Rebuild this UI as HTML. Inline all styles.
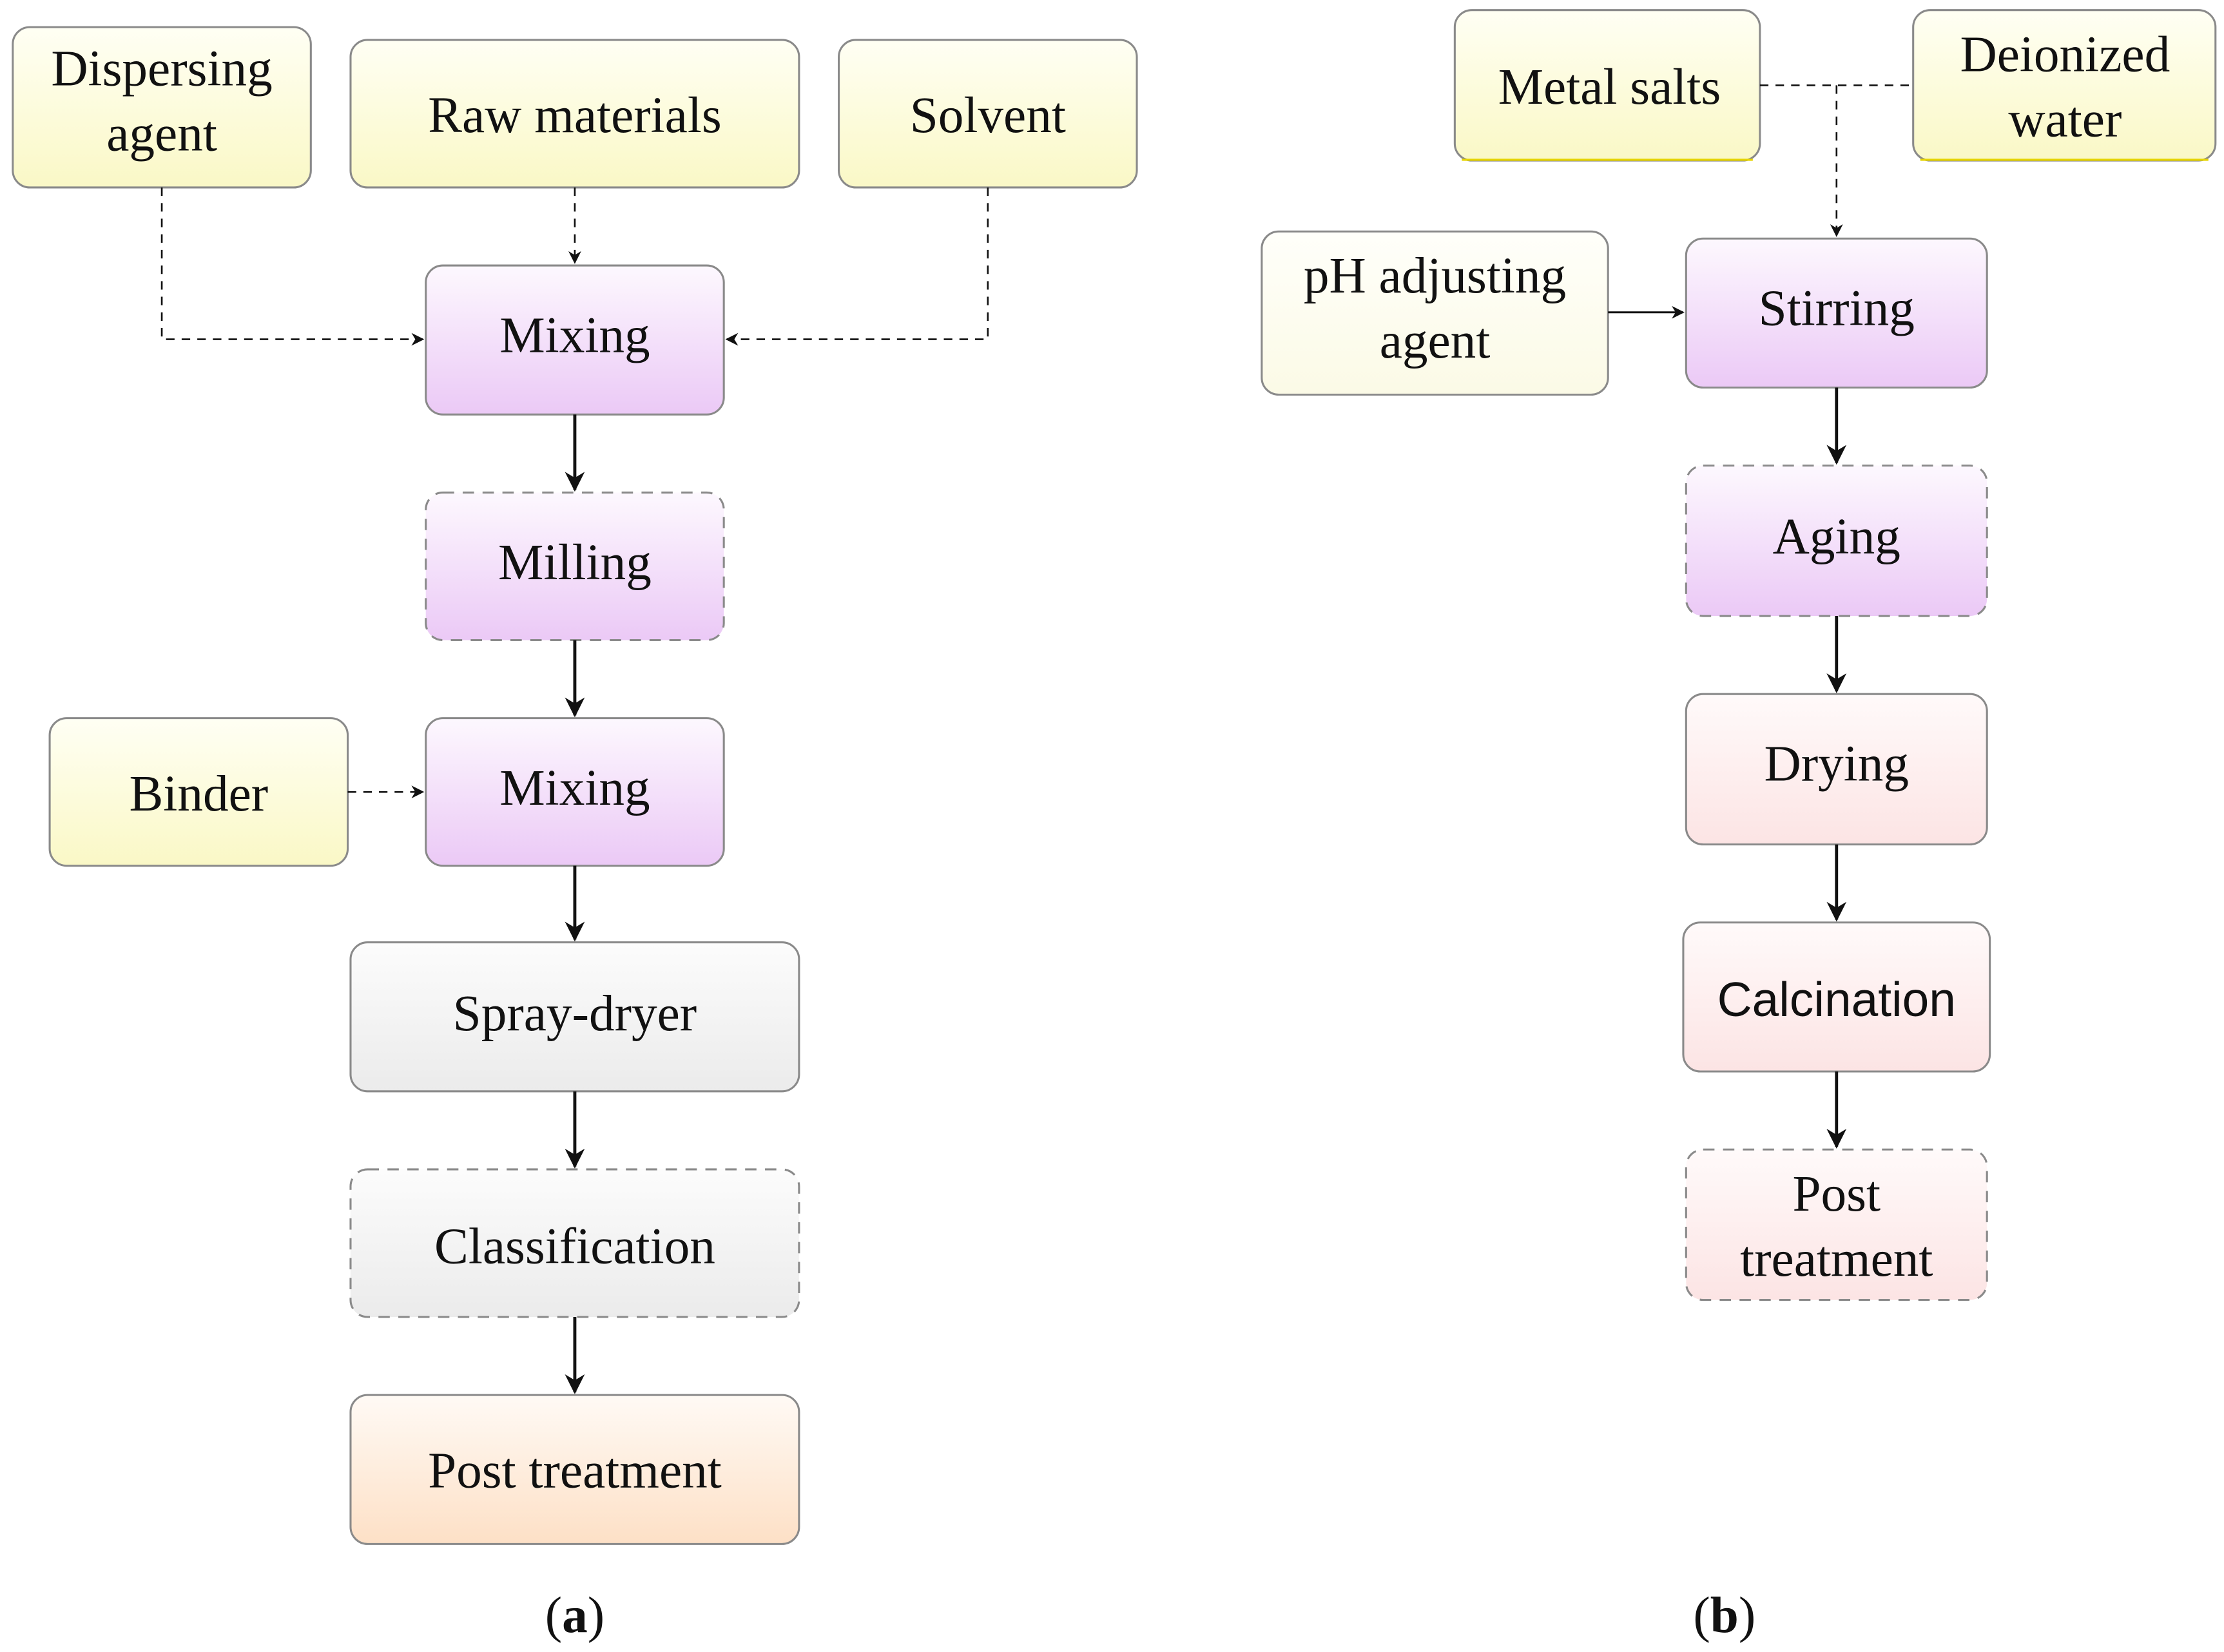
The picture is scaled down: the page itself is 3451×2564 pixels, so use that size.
<!DOCTYPE html>
<html><head><meta charset="utf-8"><style>
html,body{margin:0;padding:0;background:#fff;}
svg{display:block;}
text{font-family:"Liberation Serif",serif;font-size:36px;fill:#111;text-anchor:middle;}
.s{font-family:"Liberation Sans",sans-serif;}
</style></head><body>
<svg width="3451" height="2564" viewBox="0 0 1567 1164" xmlns="http://www.w3.org/2000/svg">
<defs>
<linearGradient id="y" x1="0" y1="0" x2="0" y2="1"><stop offset="0" stop-color="#fffff4"/><stop offset="1" stop-color="#faf8c6"/></linearGradient>
<linearGradient id="y2" x1="0" y1="0" x2="0" y2="1"><stop offset="0" stop-color="#fffffa"/><stop offset="1" stop-color="#fbfae6"/></linearGradient>
<linearGradient id="p" x1="0" y1="0" x2="0" y2="1"><stop offset="0" stop-color="#fdf8fe"/><stop offset="1" stop-color="#ebc9f6"/></linearGradient>
<linearGradient id="g" x1="0" y1="0" x2="0" y2="1"><stop offset="0" stop-color="#fcfcfc"/><stop offset="1" stop-color="#ebebeb"/></linearGradient>
<linearGradient id="o" x1="0" y1="0" x2="0" y2="1"><stop offset="0" stop-color="#fffaf5"/><stop offset="1" stop-color="#fde0c6"/></linearGradient>
<linearGradient id="k" x1="0" y1="0" x2="0" y2="1"><stop offset="0" stop-color="#fffafa"/><stop offset="1" stop-color="#fce4e4"/></linearGradient>
<marker id="a" viewBox="0 0 10 10" refX="9" refY="5" markerWidth="9" markerHeight="9" markerUnits="userSpaceOnUse" orient="auto"><path d="M0,0 L10,5 L0,10 L3,5 Z" fill="#111"/></marker>
<marker id="b" viewBox="0 0 10 10" refX="9" refY="5" markerWidth="14" markerHeight="14" markerUnits="userSpaceOnUse" orient="auto"><path d="M0,0 L10,5 L0,10 L3,5 Z" fill="#111"/></marker>
</defs>
<g stroke="#8a8a8a" stroke-width="1.4">
<rect x="9" y="19" width="210" height="113" rx="12" fill="url(#y)"/>
<rect x="247" y="28" width="316" height="104" rx="12" fill="url(#y)"/>
<rect x="591" y="28" width="210" height="104" rx="12" fill="url(#y)"/>
<rect x="300" y="187" width="210" height="105" rx="12" fill="url(#p)"/>
<rect x="300" y="347" width="210" height="104" rx="12" fill="url(#p)" stroke-dasharray="8,6"/>
<rect x="35" y="506" width="210" height="104" rx="12" fill="url(#y)"/>
<rect x="300" y="506" width="210" height="104" rx="12" fill="url(#p)"/>
<rect x="247" y="664" width="316" height="105" rx="12" fill="url(#g)"/>
<rect x="247" y="824" width="316" height="104" rx="12" fill="url(#g)" stroke-dasharray="8,6"/>
<rect x="247" y="983" width="316" height="105" rx="12" fill="url(#o)"/>
<rect x="1025" y="7" width="215" height="106" rx="12" fill="url(#y)"/>
<rect x="1348" y="7" width="213" height="106" rx="12" fill="url(#y)"/>
<rect x="889" y="163" width="244" height="115" rx="12" fill="url(#y2)"/>
<rect x="1188" y="168" width="212" height="105" rx="12" fill="url(#p)"/>
<rect x="1188" y="328" width="212" height="106" rx="12" fill="url(#p)" stroke-dasharray="8,6"/>
<rect x="1188" y="489" width="212" height="106" rx="12" fill="url(#k)"/>
<rect x="1186" y="650" width="216" height="105" rx="12" fill="url(#k)"/>
<rect x="1188" y="810" width="212" height="106" rx="12" fill="url(#k)" stroke-dasharray="8,6"/>
</g>
<line x1="1030" y1="112.5" x2="1235" y2="112.5" stroke="#e6d400" stroke-width="1.5"/>
<line x1="1353" y1="112.5" x2="1556" y2="112.5" stroke="#e6d400" stroke-width="1.5"/>
<g fill="none" stroke="#111" stroke-width="1.2" stroke-dasharray="6,5">
<path d="M114,132 V239 H298" marker-end="url(#a)"/>
<path d="M405,132 V185" marker-end="url(#a)"/>
<path d="M696,132 V239 H512" marker-end="url(#a)"/>
<path d="M245,558 H298" marker-end="url(#a)"/>
<path d="M1240,60 H1348"/>
<path d="M1294,60 V166" marker-end="url(#a)"/>
</g>
<g fill="none" stroke="#111" stroke-width="2.2">
<path d="M405,292 V345" marker-end="url(#b)"/>
<path d="M405,451 V504" marker-end="url(#b)"/>
<path d="M405,610 V662" marker-end="url(#b)"/>
<path d="M405,769 V822" marker-end="url(#b)"/>
<path d="M405,928 V981" marker-end="url(#b)"/>
<path d="M1294,273 V326" marker-end="url(#b)"/>
<path d="M1294,434 V487" marker-end="url(#b)"/>
<path d="M1294,595 V648" marker-end="url(#b)"/>
<path d="M1294,755 V808" marker-end="url(#b)"/>
</g>
<path d="M1133,220 H1186" stroke="#111" stroke-width="1.4" marker-end="url(#a)"/>
<text x="114" y="60">Dispersing</text>
<text x="114" y="106">agent</text>
<text x="405" y="93">Raw materials</text>
<text x="696" y="93">Solvent</text>
<text x="405" y="248">Mixing</text>
<text x="405" y="408">Milling</text>
<text x="140" y="571">Binder</text>
<text x="405" y="567">Mixing</text>
<text x="405" y="726">Spray-dryer</text>
<text x="405" y="890">Classification</text>
<text x="405" y="1048">Post treatment</text>
<text x="405" y="1150"><tspan>(</tspan><tspan font-weight="bold">a</tspan><tspan>)</tspan></text>
<text x="1134" y="73">Metal salts</text>
<text x="1455" y="50">Deionized</text>
<text x="1455" y="96">water</text>
<text x="1011" y="206">pH adjusting</text>
<text x="1011" y="252">agent</text>
<text x="1294" y="229">Stirring</text>
<text x="1294" y="390">Aging</text>
<text x="1294" y="550">Drying</text>
<text x="1294" y="716" class="s" style="font-size:34px">Calcination</text>
<text x="1294" y="853">Post</text>
<text x="1294" y="899">treatment</text>
<text x="1215" y="1150"><tspan>(</tspan><tspan font-weight="bold">b</tspan><tspan>)</tspan></text>
</svg>
</body></html>
